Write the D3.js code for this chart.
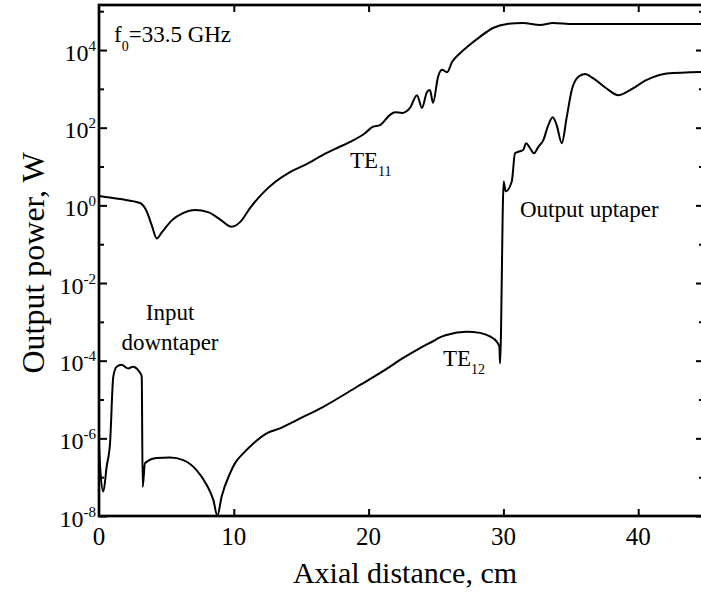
<!DOCTYPE html>
<html>
<head>
<meta charset="utf-8">
<script src="https://cdn.jsdelivr.net/npm/d3@7"></script>
<style>
  body { margin: 0; background: #fff; }
  svg { display: block; }
  text { font-family: "Liberation Serif", "Times New Roman", serif; fill: #000; }
</style>
</head>
<body>
<svg id="chart" width="701" height="592"></svg>
<script>
// Axial distance (cm) and output power (W) of the two modes
const te11Distance = [0, 1.56, 3.04, 3.49, 3.93, 4.28, 4.67, 5.42, 6.23, 7.12, 8.09, 8.98, 9.84, 10.46, 11.2,
  12.17, 13.06, 14.17, 15.28, 16.62, 17.66, 18.62, 19.73, 20.3, 20.85, 21.59, 21.96, 22.48, 23.07, 23.59,
  23.96, 24.33, 24.55, 24.78, 25.15, 25.45, 25.82, 26.19, 26.78, 27.3, 28.26, 29.23, 30.27, 31.45, 32.72,
  33.68, 35.16, 44.88];
const te11Power = [1.74, 1.45, 1.15, 0.76, 0.295, 0.141, 0.204, 0.417, 0.63, 0.76, 0.67, 0.437, 0.282, 0.37, 0.85,
  2.1, 4.0, 7.2, 11, 20, 30, 43, 72, 105, 117, 214, 251, 240, 324, 690,
  324, 830, 930, 436, 2040, 3090, 2690, 4900, 8300, 12000, 21900, 37000, 47000, 50000, 44000,
  50000, 47000, 47000];

const te12Distance = [0, 0.1, 0.32, 0.57, 0.82, 1.06, 1.31, 1.68, 2.17, 2.5, 2.99, 3.17, 3.24, 3.41, 4.28,
  5.27, 6.25, 7.25, 7.99, 8.48, 8.78, 9.1, 9.72, 10.09, 10.7, 11.45, 12.44, 13.43, 14.67, 16.64,
  19.12, 21.59, 22.33, 23.81, 24.93, 25.17, 25.79, 27.28, 28.26, 29.0, 29.5, 29.7, 29.75, 30.02, 30.16,
  30.62, 30.86, 31.1, 31.48, 31.68, 31.97, 32.27, 32.59, 32.96, 33.33, 33.66, 33.95, 34.33, 34.7, 35.07,
  35.56, 36.05, 36.67, 37.66, 38.52, 39.39, 40.63, 42.11, 44.88];
const te12Power = [6.8e-7, 1.5e-7, 4.3e-8, 1.9e-7, 7.6e-7, 3.9e-5, 7.0e-5, 7.8e-5, 6.3e-5, 7.0e-5, 5.2e-5, 3.9e-5, 5.6e-8, 2.3e-7, 3.1e-7,
  3.2e-7, 2.75e-7, 1.5e-7, 6.3e-8, 2.6e-8, 1.02e-8, 3.2e-8, 1.26e-7, 2.3e-7, 4.1e-7, 7.4e-7, 1.35e-6, 1.8e-6, 2.95e-6, 6.5e-6,
  2.1e-5, 7.0e-5, 1.05e-4, 2.1e-4, 3.4e-4, 3.8e-4, 4.6e-4, 5.6e-4, 5.2e-4, 4.2e-4, 3.1e-4, 2.3e-4, 8.5e-5, 4.1, 2.3,
  4.1, 22, 24, 27, 40, 30, 22, 32, 48, 117, 186, 117, 40, 190, 930,
  2040, 2400, 1860, 1020, 690, 930, 1700, 2500, 2750];

const xTickValues = [0, 10, 20, 30, 40];
const yLabelExponents = [-8, -6, -4, -2, 0, 2, 4];
const yMinorExponents = [-7, -5, -3, -1, 1, 3, 5];

const plot = { left: 99, right: 704, top: 5, bottom: 516 };
const svg = d3.select("#chart");

const x = d3.scaleLinear().domain([0, 44.88]).range([plot.left, plot.right]);
const y = d3.scaleLog().domain([1e-8, Math.pow(10, 5.16)]).range([plot.bottom, plot.top]);

const pow10 = e => Math.pow(10, e);

// inward tick marks on all four sides
function ticks(axis, transform) {
  svg.append("g")
    .attr("transform", transform)
    .call(axis)
    .call(g => g.select(".domain").remove())
    .call(g => g.selectAll("line").attr("stroke", "#000").attr("stroke-width", 2));
}
const noText = () => "";
ticks(d3.axisLeft(y).tickValues(yLabelExponents.map(pow10)).tickSize(-8).tickFormat(noText), `translate(${plot.left},0)`);
ticks(d3.axisLeft(y).tickValues(yMinorExponents.map(pow10)).tickSize(-5).tickFormat(noText), `translate(${plot.left},0)`);
ticks(d3.axisRight(y).tickValues(yLabelExponents.map(pow10)).tickSize(-8).tickFormat(noText), `translate(${plot.right},0)`);
ticks(d3.axisRight(y).tickValues(yMinorExponents.map(pow10)).tickSize(-5).tickFormat(noText), `translate(${plot.right},0)`);
ticks(d3.axisBottom(x).tickValues(xTickValues.slice(1)).tickSize(-7).tickFormat(noText), `translate(0,${plot.bottom})`);
ticks(d3.axisTop(x).tickValues(xTickValues.slice(1)).tickSize(-7).tickFormat(noText), `translate(0,${plot.top})`);

// curves
const clip = svg.append("clipPath").attr("id", "plot-clip")
  .append("rect")
  .attr("x", plot.left).attr("y", plot.top)
  .attr("width", plot.right - plot.left).attr("height", plot.bottom - plot.top);

const line = d3.line()
  .x(d => x(d[0]))
  .y(d => y(d[1]))
  .curve(d3.curveMonotoneX);

const curves = svg.append("g").attr("clip-path", "url(#plot-clip)");
[[te11Distance, te11Power], [te12Distance, te12Power]].forEach(([xs, ps]) => {
  curves.append("path")
    .datum(xs.map((d, i) => [d, ps[i]]))
    .attr("d", line)
    .attr("fill", "none")
    .attr("stroke", "#000")
    .attr("stroke-width", 2)
    .attr("stroke-linejoin", "round");
});

// frame
svg.append("rect")
  .attr("x", plot.left).attr("y", plot.top)
  .attr("width", plot.right - plot.left).attr("height", plot.bottom - plot.top)
  .attr("fill", "none").attr("stroke", "#000").attr("stroke-width", 2.7);

// tick labels
svg.append("g").selectAll("text")
  .data(xTickValues)
  .join("text")
  .attr("x", d => x(d))
  .attr("y", 545)
  .attr("text-anchor", "middle")
  .attr("font-size", 25)
  .text(d => d);

const yLabels = svg.append("g").selectAll("text")
  .data(yLabelExponents)
  .join("text")
  .attr("x", 96)
  .attr("y", e => y(pow10(e)) + 10.7)
  .attr("text-anchor", "end")
  .attr("font-size", 24);
yLabels.append("tspan").text("10");
yLabels.append("tspan").attr("font-size", 15).attr("dy", -10).text(e => e);

// axis titles
svg.append("text")
  .attr("x", 405).attr("y", 583)
  .attr("text-anchor", "middle")
  .attr("font-size", 30)
  .text("Axial distance, cm");

svg.append("text")
  .attr("transform", "translate(44,263) rotate(-90)")
  .attr("text-anchor", "middle")
  .attr("font-size", 32)
  .text("Output power, W");

// annotations
const f0 = svg.append("text").attr("x", 114).attr("y", 42).attr("font-size", 23);
f0.append("tspan").text("f");
f0.append("tspan").attr("font-size", 14).attr("dy", 9).text("0");
f0.append("tspan").attr("dy", -9).text("=33.5 GHz");

const te11 = svg.append("text").attr("x", 350).attr("y", 168).attr("font-size", 23);
te11.append("tspan").text("TE");
te11.append("tspan").attr("font-size", 14).attr("dy", 8).text("11");

const te12 = svg.append("text").attr("x", 443).attr("y", 366).attr("font-size", 23);
te12.append("tspan").text("TE");
te12.append("tspan").attr("font-size", 14).attr("dy", 8).text("12");

svg.append("text").attr("x", 170).attr("y", 320).attr("text-anchor", "middle").attr("font-size", 23).text("Input");
svg.append("text").attr("x", 170).attr("y", 350).attr("text-anchor", "middle").attr("font-size", 23).text("downtaper");
svg.append("text").attr("x", 520).attr("y", 217).attr("font-size", 23).text("Output uptaper");
</script>
</body>
</html>
